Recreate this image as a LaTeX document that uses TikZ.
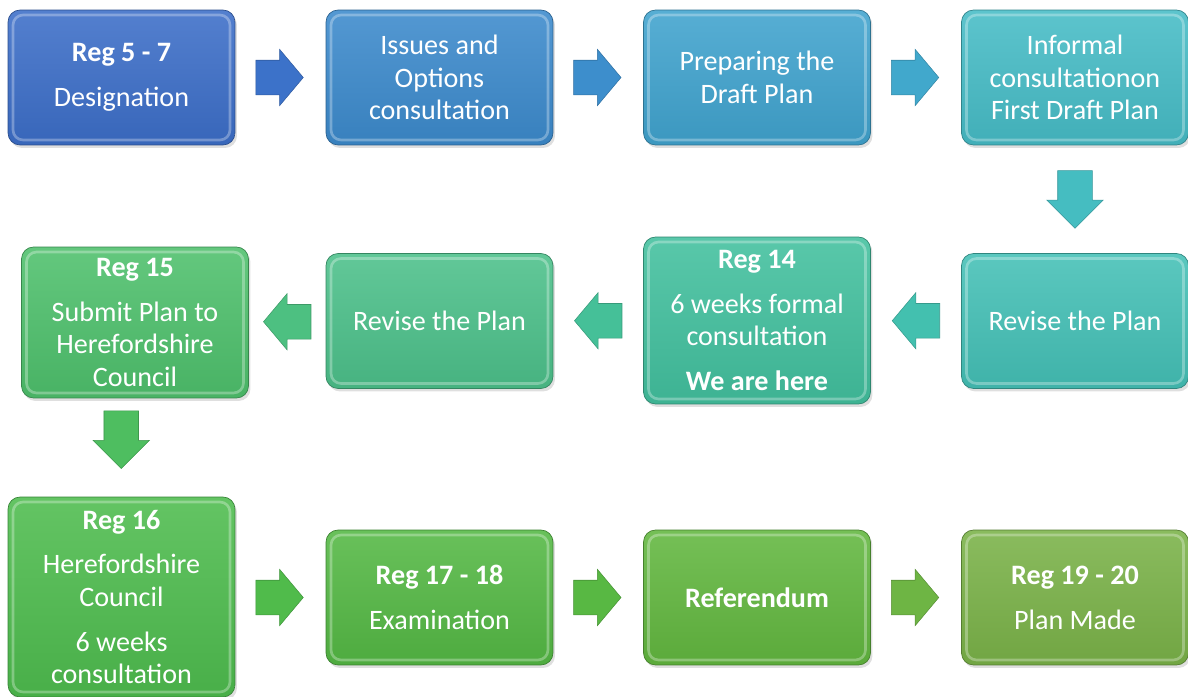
\documentclass[tikz,border=0pt]{standalone}
\usepackage{fontspec}
\setmainfont{Carlito}
\usetikzlibrary{shapes.arrows,shadows,calc}

\definecolor{regA}{RGB}{60,110,200}
\definecolor{regB}{RGB}{60,138,204}
\definecolor{regC}{RGB}{64,163,206}
\definecolor{regD}{RGB}{70,188,198}
\definecolor{regE}{RGB}{68,192,182}
\definecolor{regF}{RGB}{66,192,158}
\definecolor{regG}{RGB}{76,192,138}
\definecolor{regH}{RGB}{78,192,108}
\definecolor{regI}{RGB}{78,188,78}
\definecolor{regJ}{RGB}{84,184,68}
\definecolor{regK}{RGB}{98,183,63}
\definecolor{regL}{RGB}{122,178,72}

\tikzset{
  stepbox/.style={rectangle, rounded corners=0.24cm,
    minimum width=4.54cm, minimum height=2.7cm,
    align=center, text=white, font=\fontsize{16}{18.5}\selectfont,
    top color=#1!88!white, bottom color=#1!93!black,
    draw=#1!70!black, line width=0.4pt,
    drop shadow={opacity=0.25, shadow xshift=0.04cm, shadow yshift=-0.06cm},
    path picture={
      \draw[white, opacity=0.3, line width=1.5pt, rounded corners=0.2cm]
        ([shift={(0.1cm,-0.1cm)}]path picture bounding box.north west) rectangle
        ([shift={(-0.1cm,0.1cm)}]path picture bounding box.south east);
    }},
  flowarrow/.style={single arrow, fill=#1, draw=#1!80!black, line width=0.3pt,
    inner xsep=0.325cm, inner ysep=0.34cm,
    single arrow head extend=0.22cm, single arrow tip angle=100,
    anchor=tail},
  downarrow/.style={flowarrow=#1, rotate=-90, inner xsep=0.4cm,
    single arrow tip angle=90}
}

\begin{document}
\begin{tikzpicture}[x=0.02cm, y=-0.02cm]
  \useasboundingbox (0,0) rectangle (1188,697);

  % top row
  \node[stepbox=regA] (des) at (121.5,77.5) {\textbf{Reg 5 - 7}\\[7pt]Designation};
  \node[stepbox=regB] (iss) at (439.5,77.5) {Issues and\\Options\\consultation};
  \node[stepbox=regC] (pre) at (757,77.5) {Preparing the\\Draft Plan};
  \node[stepbox=regD] (inf) at (1075,77.5) {Informal\\consultationon\\First Draft Plan};

  % middle row
  \node[stepbox=regE] (revA) at (1075,321) {Revise the Plan};
  \node[stepbox=regF, minimum height=3.34cm] (rgf) at (757,320.5)
    {\textbf{Reg 14}\\[7pt]6 weeks formal\\consultation\\[7pt]\textbf{We are here}};
  \node[stepbox=regG] (revB) at (439.5,321) {Revise the Plan};
  \node[stepbox=regH, minimum height=3.02cm] (sub) at (135,322.5)
    {\textbf{Reg 15}\\[7pt]Submit Plan to\\Herefordshire\\Council};

  % bottom row
  \node[stepbox=regI, minimum height=4cm] (hc) at (121.5,597)
    {\textbf{Reg 16}\\[7pt]Herefordshire\\Council\\[7pt]6 weeks\\consultation};
  \node[stepbox=regJ] (exa) at (439.5,597.5) {\textbf{Reg 17 - 18}\\[7pt]Examination};
  \node[stepbox=regK] (ref) at (757,597.5) {\textbf{Referendum}};
  \node[stepbox=regL] (made) at (1075,597.5) {\textbf{Reg 19 - 20}\\[7pt]Plan Made};

  % arrows (tail placed half a length before the gap centre)
  \node[flowarrow=regA!85!regB] (a1) at ($(des.east)!0.5!(iss.west)+(-25,0)$) {};
  \node[flowarrow=regB!85!regC] (a2) at ($(iss.east)!0.5!(pre.west)+(-25,0)$) {};
  \node[flowarrow=regC!80!regD] (a3) at ($(pre.east)!0.5!(inf.west)+(-25,0)$) {};
  \node[downarrow=regD!70!regE] (a4) at ($(inf.south)!0.5!(revA.north)+(0,-29)$) {};
  \node[flowarrow=regE!70!regF, rotate=180] (a5) at ($(revA.west)!0.5!(rgf.east)+(24,0)$) {};
  \node[flowarrow=regF!70!regG, rotate=180] (a6) at ($(rgf.west)!0.5!(revB.east)+(24,0)$) {};
  \node[flowarrow=regG!70!regH, rotate=180] (a7) at ($(revB.west)!0.5!(sub.east)+(24,0)$) {};
  \node[downarrow=regH!60!regI] (a8) at ($(sub.south)!0.5!(hc.north)+(-7,-37)$) {};
  \node[flowarrow=regI!70!regJ] (a9) at ($(hc.east|-exa.west)!0.5!(exa.west)+(-25,0)$) {};
  \node[flowarrow=regJ!70!regK] (a10) at ($(exa.east)!0.5!(ref.west)+(-25,0)$) {};
  \node[flowarrow=regK!50!regL] (a11) at ($(ref.east)!0.5!(made.west)+(-25,0)$) {};
\end{tikzpicture}
\end{document}
